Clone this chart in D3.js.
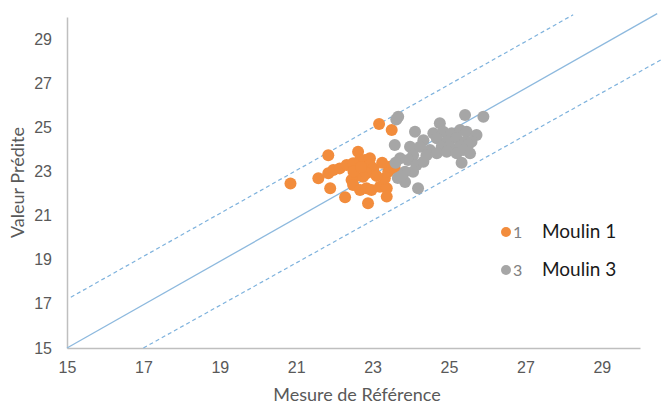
<!DOCTYPE html>
<html>
<head>
<meta charset="utf-8">
<script src="https://cdn.jsdelivr.net/npm/d3@7"></script>
<style>
  html, body { margin: 0; padding: 0; background: #fff; }
  svg { display: block; font-family: Lato, "Open Sans", sans-serif; }
</style>
</head>
<body>
<svg id="chart" width="663" height="407"></svg>
<script>
// Moulin 1: [mesure de référence, valeur prédite]
const moulin1 = [
  [20.85, 22.46], [21.84, 23.74], [21.58, 22.69], [21.84, 22.92], [21.97, 23.07],
  [22.14, 23.14], [22.32, 23.29], [22.49, 23.37], [22.62, 23.89], [22.67, 23.52],
  [22.80, 23.52], [22.93, 23.60], [22.93, 23.29], [23.02, 23.14], [22.84, 22.92],
  [22.75, 22.76], [22.54, 22.76], [22.45, 22.61], [22.49, 22.39], [22.67, 22.16],
  [22.84, 22.24], [22.97, 22.16], [23.19, 22.31], [23.37, 22.24], [23.37, 21.86],
  [23.32, 22.69], [23.41, 22.99], [23.45, 23.21], [23.58, 23.14], [21.89, 22.24],
  [22.28, 21.83], [22.88, 21.56], [23.17, 25.15], [23.50, 24.88], [22.50, 23.00],
  [23.10, 22.80], [22.70, 23.20], [23.25, 23.40]
];

// Moulin 3: [mesure de référence, valeur prédite]
const moulin3 = [
  [23.67, 25.48], [25.42, 25.56], [25.90, 25.48], [24.76, 25.18], [24.11, 24.80],
  [24.59, 24.73], [24.85, 24.80], [25.07, 24.73], [25.29, 24.88], [25.46, 24.80],
  [25.72, 24.65], [24.33, 24.42], [24.68, 24.50], [24.94, 24.35], [25.20, 24.50],
  [25.42, 24.35], [25.59, 24.35], [23.58, 24.20], [23.98, 24.12], [24.24, 24.12],
  [24.50, 23.97], [24.81, 24.12], [25.02, 24.12], [25.29, 24.12], [25.50, 24.20],
  [24.06, 23.74], [24.41, 23.74], [24.68, 23.82], [24.94, 23.89], [25.20, 23.82],
  [25.37, 23.97], [25.55, 23.82], [23.72, 23.60], [23.93, 23.52], [24.15, 23.29],
  [24.33, 23.44], [25.33, 23.40], [24.06, 22.99], [23.85, 22.99], [24.19, 22.24],
  [23.85, 22.52], [23.66, 22.70], [23.60, 23.40], [23.75, 22.80], [23.62, 25.35]
];

// Reference lines: identity and ± band
const lineIdentity = [[15, 15], [30.45, 30.15]];
const lineUpper = [[15.1, 17.3], [28.25, 30.1]];
const lineLower = [[17, 15], [30.8, 28.3]];

const xTicks = [15, 17, 19, 21, 23, 25, 27, 29];
const yTicks = [15, 17, 19, 21, 23, 25, 27, 29];

const xTitle = "Mesure de Référence";
const yTitle = "Valeur Prédite";
const legendItems = [
  { key: "1", label: "Moulin 1", color: "#F28C3C" },
  { key: "3", label: "Moulin 3", color: "#A6A6A6" }
];

const svg = d3.select("#chart");

const x = d3.scaleLinear().domain([15, 30]).range([67, 640]);
const y = d3.scaleLinear().domain([15, 30]).range([348, 17]);

// Axes (no tick marks, light gray baseline)
const xAxis = svg.append("g")
  .attr("transform", `translate(0,${y(15)})`)
  .call(d3.axisBottom(x).tickValues(xTicks).tickSize(0).tickPadding(14));
const yAxis = svg.append("g")
  .attr("transform", `translate(${x(15)},0)`)
  .call(d3.axisLeft(y).tickValues(yTicks).tickSize(0).tickPadding(15));

[xAxis, yAxis].forEach(g => {
  g.select(".domain").attr("stroke", "#BFBFBF").attr("stroke-width", 1.5);
  g.selectAll("text").attr("fill", "#595959").attr("font-size", 16);
});
xAxis.selectAll("text").attr("dy", "0.71em");

// Axis titles
svg.append("text")
  .attr("x", 357).attr("y", 401)
  .attr("text-anchor", "middle")
  .attr("fill", "#595959").attr("font-size", 18)
  .text(xTitle);
svg.append("text")
  .attr("transform", `translate(24,${(y(15) + y(30)) / 2}) rotate(-90)`)
  .attr("text-anchor", "middle")
  .attr("fill", "#595959").attr("font-size", 18)
  .text(yTitle);

// Reference lines
const line = d3.line().x(d => x(d[0])).y(d => y(d[1]));
svg.append("path").datum(lineIdentity).attr("d", line)
  .attr("fill", "none").attr("stroke", "#8DB9DE").attr("stroke-width", 1.3);
[lineUpper, lineLower].forEach(l => {
  svg.append("path").datum(l).attr("d", line)
    .attr("fill", "none").attr("stroke", "#7EB2DD").attr("stroke-width", 1.2)
    .attr("stroke-dasharray", "4,3");
});

// Points
svg.append("g").selectAll("circle").data(moulin1).join("circle")
  .attr("cx", d => x(d[0])).attr("cy", d => y(d[1])).attr("r", 6)
  .attr("fill", legendItems[0].color);
svg.append("g").selectAll("circle").data(moulin3).join("circle")
  .attr("cx", d => x(d[0])).attr("cy", d => y(d[1])).attr("r", 6)
  .attr("fill", legendItems[1].color);

// Legend
const legend = svg.append("g");
legendItems.forEach((item, i) => {
  const cy = 232 + i * 38;
  legend.append("circle").attr("cx", 506).attr("cy", cy).attr("r", 5).attr("fill", item.color);
  legend.append("text").attr("x", 513).attr("y", cy + 6)
    .attr("fill", "#808080").attr("font-size", 16).text(item.key);
  legend.append("text").attr("x", 542).attr("y", cy + 6)
    .attr("fill", "#1a1a1a").attr("font-size", 19).text(item.label);
});
</script>
</body>
</html>
